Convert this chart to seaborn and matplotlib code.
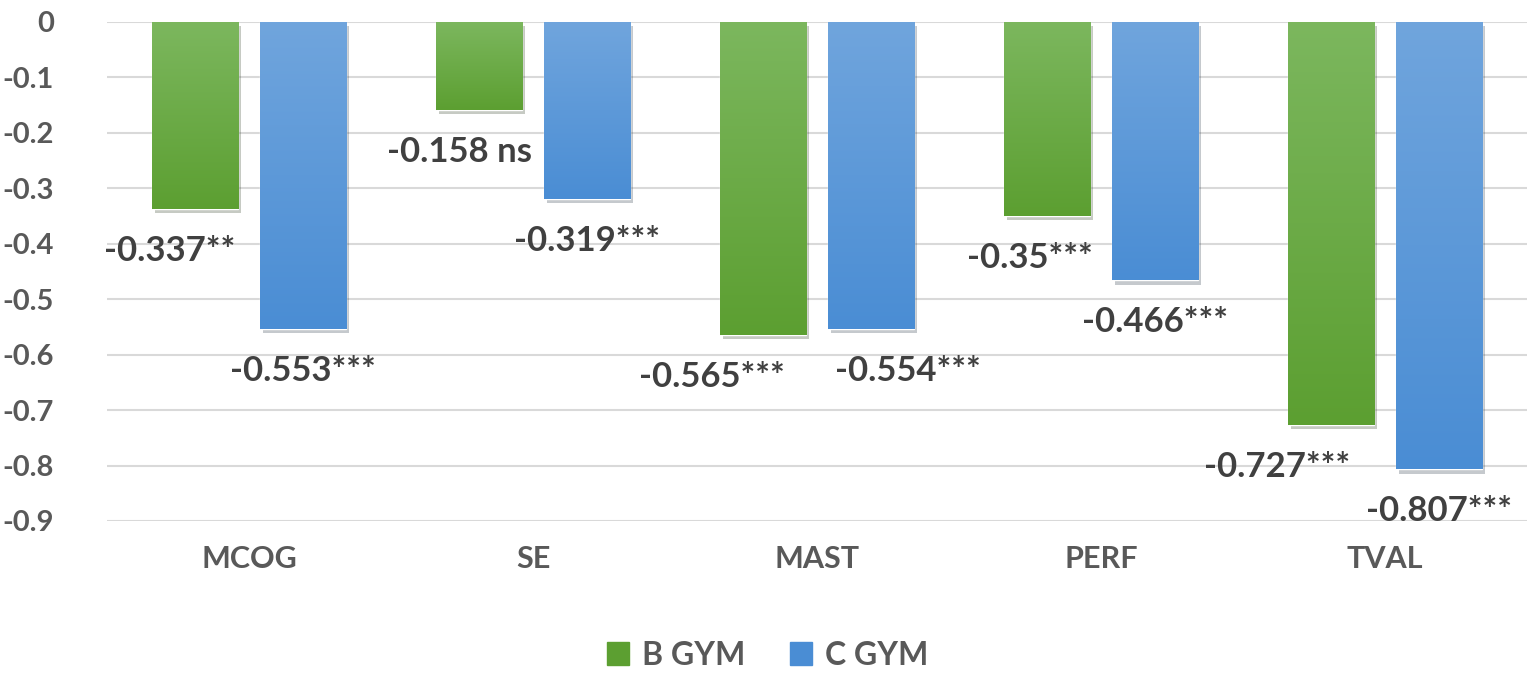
import numpy as np
import pandas as pd
import matplotlib
matplotlib.use("Agg")
import matplotlib.pyplot as plt
import matplotlib.patheffects as pe
from matplotlib.colors import LinearSegmentedColormap
import seaborn as sns

# datos
categories = ["MCOG", "SE", "MAST", "PERF", "TVAL"]
groups = ["B GYM", "C GYM"]
b_gym = [-0.337, -0.158, -0.565, -0.35, -0.727]
c_gym = [-0.553, -0.319, -0.554, -0.466, -0.807]
b_sig = ["**", " ns", "***", "***", "***"]
c_sig = ["***", "***", "***", "***", "***"]

# desplazamiento horizontal de las etiquetas (en unidades de categoria)
b_shift = [-0.09, -0.07, -0.18, -0.06, -0.19]
c_shift = [0.0, 0.0, 0.13, 0.0, 0.0]

df = pd.DataFrame({
    "cat": categories * 2,
    "grupo": [groups[0]] * 5 + [groups[1]] * 5,
    "valor": b_gym + c_gym,
})

sns.set_theme(style="white")
plt.rcParams["font.family"] = ["Lato", "DejaVu Sans"]

txt = "#595959"
lbl = "#404040"
green = ("#7cb75e", "#5c9f31")
blue = ("#70a5dd", "#4a8dd4")

fig = plt.figure(figsize=(15.35, 6.76), dpi=100)
ax = fig.add_axes([0.0697, 0.2293, 0.9251, 0.7382])

sns.barplot(data=df, x="cat", y="valor", hue="grupo", order=categories,
            hue_order=groups, palette=[green[1], blue[1]], width=0.76, gap=0.2,
            errorbar=None, legend=False, ax=ax, zorder=3)

# degradado en cada barra
bars = ax.patches
for i, p in enumerate(bars):
    cols = green if i < 5 else blue
    cmap = LinearSegmentedColormap.from_list("g", [cols[0], cols[1]])
    x0, y0 = p.get_x(), p.get_y()
    w, h = p.get_width(), p.get_height()
    grad = np.linspace(0, 1, 256).reshape(-1, 1)
    im = ax.imshow(grad, cmap=cmap, aspect="auto", zorder=4,
                   extent=[x0, x0 + w, min(y0, y0 + h), max(y0, y0 + h)],
                   origin="upper")
    im.set_clip_path(p)
    p.set_path_effects([pe.SimplePatchShadow(offset=(2, -3), alpha=0.25), pe.Normal()])

ax.set_xlim(-0.5, 4.5)
ax.set_ylim(-0.9, 0)
ax.set_yticks(np.arange(0, -0.91, -0.1))
ax.set_yticklabels(["0"] + [f"{v:.1f}" for v in np.arange(-0.1, -0.91, -0.1)])
ax.grid(axis="y", color="#d9d9d9", linewidth=1.5, zorder=0)
ax.set_axisbelow(True)
for s in ax.spines.values():
    s.set_visible(False)
ax.set_xlabel("")
ax.set_ylabel("")
ax.tick_params(axis="y", length=0, pad=38, labelsize=21, labelcolor=txt)
ax.tick_params(axis="x", length=0, pad=17, labelsize=22, labelcolor=txt)
for t in ax.get_xticklabels() + ax.get_yticklabels():
    t.set_fontweight("bold")

# etiquetas de valores
for vals, sigs, shift, sign in [(b_gym, b_sig, b_shift, -1), (c_gym, c_sig, c_shift, 1)]:
    for i, v in enumerate(vals):
        xc = i + sign * 0.19 + shift[i]
        ax.annotate(f"{v:g}{sigs[i]}", xy=(xc, v), xytext=(0, -42),
                    textcoords="offset pixels", ha="center", va="center",
                    fontsize=25, fontweight="bold", color=lbl, zorder=6,
                    annotation_clip=False)

# leyenda
handles = [plt.Rectangle((0, 0), 1, 1, color=green[1]),
           plt.Rectangle((0, 0), 1, 1, color=blue[1])]
fig.legend(handles, groups, loc="center", bbox_to_anchor=(0.5, 0.031),
           ncol=2, frameon=False, handlelength=0.7,
           handleheight=0.7, handletextpad=0.4, columnspacing=1.4,
           labelcolor=txt, prop={"weight": "bold", "size": 23})

fig.savefig("out.png", dpi=100)
